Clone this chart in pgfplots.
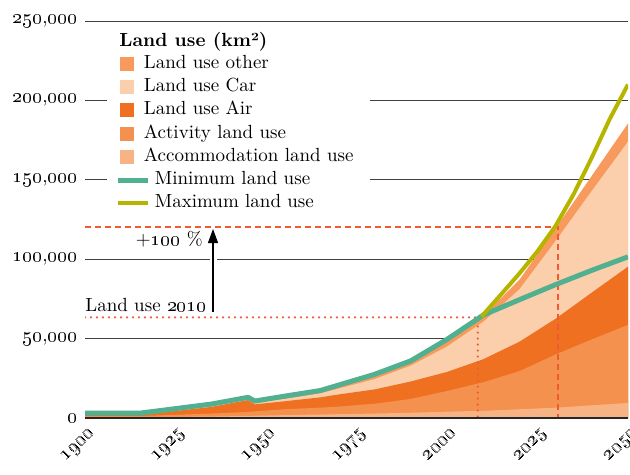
\documentclass[border=0pt]{standalone}
\usepackage{pgfplots}
\pgfplotsset{compat=1.18}
\usetikzlibrary{arrows.meta}
\definecolor{cAcc}{HTML}{F8B384}
\definecolor{cAct}{HTML}{F4914F}
\definecolor{cAir}{HTML}{F07022}
\definecolor{cCar}{HTML}{FBCFAB}
\definecolor{cOth}{HTML}{F89A5E}
\definecolor{cMin}{HTML}{50B08F}
\definecolor{cMax}{HTML}{B7B400}
\definecolor{cRef}{HTML}{EF5A30}
\newcommand\osn[1]{\oldstylenums{#1}}
\pgfplotsset{
  sqleg/.style={legend image code/.code={\path[draw=none,fill=none] (0bp,-3.5bp) rectangle (12bp,3.5bp);
      \fill[##1] (1bp,-3.5bp) rectangle (8bp,3.5bp);}},
  lnleg/.style={legend image code/.code={\path[draw=none,fill=none] (0bp,-3.5bp) rectangle (12bp,3.5bp);
      \draw[##1,overlay] (0bp,0bp) -- (15bp,0bp);}},
}
\begin{document}
\begin{tikzpicture}[font=\fontsize{9.5bp}{11.5bp}\selectfont]
\useasboundingbox (-42.5bp,-28.5bp) rectangle (272.5bp,209bp);
\begin{axis}[
  at={(0,0)}, anchor=south west, scale only axis,
  width=271.5bp, height=198.5bp,
  xmin=1900, xmax=2050, ymin=0, ymax=250000,
  axis line style={draw=none},
  major tick length=0pt,
  scaled y ticks=false,
  xtick={1900,1925,1950,1975,2000,2025,2050},
  xticklabels={\osn{1900},\osn{1925},\osn{1950},\osn{1975},\osn{2000},\osn{2025},\osn{2050}},
  ytick={0,50000,100000,150000,200000,250000},
  yticklabels={\osn{0},{\osn{50},\osn{000}},{\osn{100},\osn{000}},{\osn{150},\osn{000}},{\osn{200},\osn{000}},{\osn{250},\osn{000}}},
  ymajorgrids, grid style={black!75, line width=0.5bp},
  yticklabel style={anchor=east, inner sep=0pt, xshift=-3.5bp},
  xticklabel style={xshift=1.5bp, yshift=-4.5bp, rotate=45, anchor=north east, inner sep=0pt},
  legend style={at={(axis cs:1909.1,228900)}, anchor=north west, draw=none, fill=none,
    inner sep=0pt, outer sep=0pt, row sep=2.1bp, column sep=1bp,
    nodes={inner sep=0pt, text height=7bp, text depth=2.5bp},
    font=\fontsize{9.5bp}{11.5bp}\selectfont},
  legend cell align=left,
]
\fill[white] (axis cs:1906.1,129700) rectangle (axis cs:1978.7,245600);

% cumulative tops, painted from the top band down
\addplot[fill=cOth, draw=none, sqleg] coordinates {
(1900,3000) (1915,3000) (1935,8600) (1945,12800) (1947,10400) (1955,13300) (1965,17000) (1970,20000)
(1980,26500) (1990,35000) (2000,48000) (2010,64500) (2020,87000) (2030,119500) (2040,152500) (2050,185500)} \closedcycle;
\addlegendentry{Land use other}
\addplot[fill=cCar, draw=none, sqleg] coordinates {
(1900,2300) (1915,2300) (1935,7800) (1945,12000) (1947,9600) (1955,12000) (1965,15500) (1970,18500)
(1980,24500) (1990,33000) (2000,45000) (2010,60500) (2020,81000) (2030,111500) (2040,143000) (2050,174000)} \closedcycle;
\addlegendentry{Land use Car}
\addplot[fill=cAir, draw=none, sqleg] coordinates {
(1900,1800) (1915,1800) (1935,7000) (1945,11300) (1947,8600) (1955,10500) (1965,13000) (1970,14800)
(1980,18000) (1990,23000) (2000,29000) (2010,37000) (2020,48000) (2030,62500) (2040,79000) (2050,95300)} \closedcycle;
\addlegendentry{Land use Air}
\addplot[fill=cAct, draw=none, sqleg] coordinates {
(1900,1200) (1915,1200) (1935,2800) (1945,3800) (1947,4200) (1955,5500) (1965,6500) (1970,7200)
(1980,9000) (1990,12000) (2000,17000) (2010,22500) (2020,29500) (2030,40000) (2040,49500) (2050,58600)} \closedcycle;
\addlegendentry{Activity land use}
\addplot[fill=cAcc, draw=none, sqleg] coordinates {
(1900,500) (1915,500) (1935,900) (1945,1300) (1947,1400) (1955,1800) (1965,2200) (1970,2400)
(1980,2800) (1990,3300) (2000,4000) (2010,4500) (2020,5500) (2030,6500) (2040,8000) (2050,9500)} \closedcycle;
\addlegendentry{Accommodation land use}

\addplot[cRef, line width=1.2bp, line cap=round, dash pattern=on 0bp off 3bp, forget plot]
  coordinates {(1900,63400) (2008.5,63400) (2008.5,0)};
\addplot[cRef, line width=1bp, dash pattern=on 3bp off 2bp, forget plot]
  coordinates {(1900,120500) (2030.7,120500) (2030.7,0)};

\draw[black!85, line width=0.8bp] (axis cs:1900,0) -- (axis cs:2050,0);

\addplot[cMin, line width=2.5bp, line join=round, lnleg] coordinates {
(1900,3000) (1915,3000) (1935,8800) (1945,13000) (1947,10700) (1955,13700) (1965,17300) (1970,20700)
(1980,27500) (1990,36000) (2000,49500) (2010,64800) (2020,74500) (2030,84000) (2040,93000) (2050,101500)};
\addlegendentry{\hspace*{5.5bp}Minimum land use}
\addplot[cMax, line width=2bp, line join=round, lnleg] coordinates {
(2009.5,63800) (2015,78000) (2020,91000) (2025,105000) (2030,121000) (2035,141000) (2040,164000) (2045,188500) (2050,210000)};
\addlegendentry{\hspace*{5.5bp}Maximum land use}

\draw[white, line width=3.5bp] (axis cs:1935.36,95000) -- (axis cs:1935.36,105000);
\draw[black, line width=0.6bp, -{Triangle[width=5bp,length=7bp]}] (axis cs:1935.36,66940) -- (axis cs:1935.36,119000);

\node[anchor=base west, inner sep=0pt] at (axis cs:1900,67380) {Land use \osn{2010}};
\node[anchor=base east, inner sep=0pt] at (axis cs:1932.6,108940) {+\osn{100} \%};
\node[anchor=base west, inner sep=0pt, font=\bfseries\fontsize{9.5bp}{11.5bp}\selectfont] at (axis cs:1909.4,234250) {Land use (km²)};
\end{axis}
\end{tikzpicture}
\end{document}
